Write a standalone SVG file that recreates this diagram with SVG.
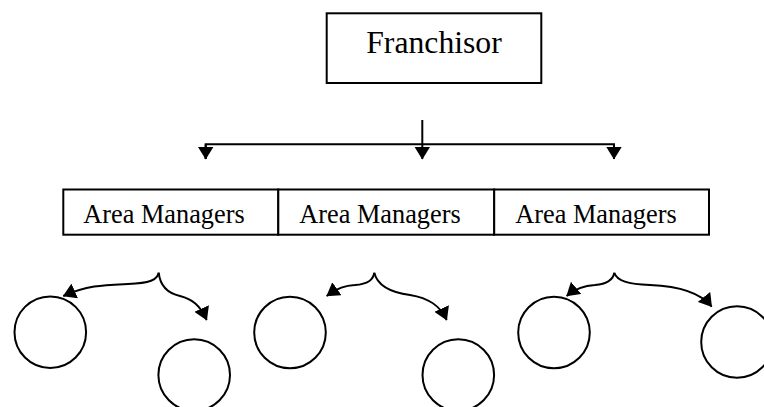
<svg xmlns="http://www.w3.org/2000/svg" width="764" height="407" viewBox="0 0 764 407">
<style>
.box{fill:#fff;stroke:#000;stroke-width:2}
.t{font-family:"Liberation Serif","Times New Roman",serif;fill:#000}
.ln{fill:none;stroke:#000;stroke-width:2}
.c{fill:#fff;stroke:#000;stroke-width:2}
</style>
<defs>
<marker id="ah" viewBox="0 0 13 16" refX="12.5" refY="8" markerWidth="13" markerHeight="16" markerUnits="userSpaceOnUse" orient="auto">
<path d="M0,0 L13,8 L0,16 z" fill="#000"/>
</marker>
</defs>
<g id="franchisor">
<rect class="box" x="326.7" y="13.3" width="214.6" height="69.7"/>
<text class="t" x="434" y="53.3" font-size="31.7" text-anchor="middle">Franchisor</text>
</g>
<g id="area1">
<rect class="box" x="63.3" y="189.5" width="215" height="45.2"/>
<text class="t" x="83.3" y="223.3" font-size="26.3">Area Managers</text>
</g>
<g id="area2">
<rect class="box" x="278.3" y="189.5" width="215.9" height="45.2"/>
<text class="t" x="299.3" y="223.3" font-size="26.3">Area Managers</text>
</g>
<g id="area3">
<rect class="box" x="494.2" y="189.5" width="214.8" height="45.2"/>
<text class="t" x="515.3" y="223.3" font-size="26.3">Area Managers</text>
</g>
<g id="unit1"><circle class="c" cx="50.3" cy="332.2" r="35.8"/></g>
<g id="unit2"><circle class="c" cx="194.2" cy="375" r="35.8"/></g>
<g id="unit3"><circle class="c" cx="290" cy="332.5" r="35.8"/></g>
<g id="unit4"><circle class="c" cx="458.3" cy="375" r="35.8"/></g>
<g id="unit5"><circle class="c" cx="554" cy="332.5" r="35.8"/></g>
<g id="unit6"><circle class="c" cx="737" cy="342" r="35.8"/></g>
<g id="connectors">
<path class="ln" d="M205.7,159 V144.3 H614 V159" marker-end="url(#ah)"/>
<path class="ln" d="M205.7,144.3 V159" marker-end="url(#ah)"/>
<path class="ln" d="M422.3,120 V159" marker-end="url(#ah)"/>
<path class="ln" d="M158.7,272.7 C157,280 150,283 128,284 C105,285 88,285 63.3,296" marker-end="url(#ah)"/>
<path class="ln" d="M158.7,272.7 C160,285 166,293 180,296 C192,299 200,305 206.7,320" marker-end="url(#ah)"/>
<path class="ln" d="M374.3,272.7 C373,280 368,284 355,285 C345,285.5 338,288 326.7,296" marker-end="url(#ah)"/>
<path class="ln" d="M374.3,272.7 C377,284 388,292 410,295 C428,298 440,305 446.7,320" marker-end="url(#ah)"/>
<path class="ln" d="M614.3,272.7 C613,280 607,284 595,285 C584,285.5 576,288 566.7,296" marker-end="url(#ah)"/>
<path class="ln" d="M614.3,272.7 C617,281 628,284 650,285 C675,286 700,292 711.7,306.7" marker-end="url(#ah)"/>
</g>
</svg>
